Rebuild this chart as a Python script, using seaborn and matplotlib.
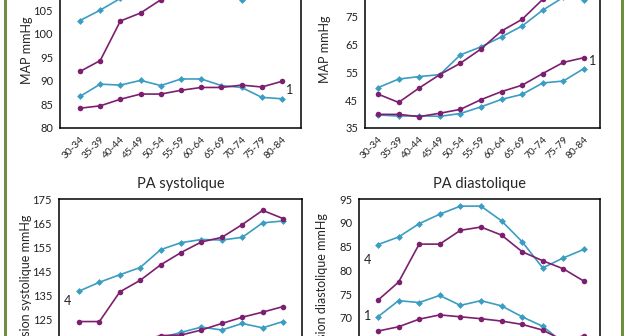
import matplotlib
matplotlib.use("Agg")
import matplotlib.pyplot as plt
from matplotlib.patches import Rectangle
import numpy as np
import pandas as pd
import seaborn as sns

sns.set_style("white")
plt.rcParams["font.family"] = ["Lato", "DejaVu Sans"]

age_groups = ["30-34", "35-39", "40-44", "45-49", "50-54", "55-59",
              "60-64", "65-69", "70-74", "75-79", "80-84"]

# Pression artérielle moyenne (MAP), group 4 and group 1, two series each
map_sys_g4_blue = [102.8, 105.0, 107.5, 109.0, 110.0, 110.5, 110.0, 109.0, 107.2, 108.0, 108.0]
map_sys_g4_purple = [92.0, 94.3, 102.7, 104.4, 107.2, 109.0, 111.0, 112.0, 113.0, 114.0, 113.0]
map_sys_g1_blue = [86.7, 89.3, 89.1, 90.1, 89.0, 90.4, 90.4, 89.0, 88.6, 86.5, 86.2]
map_sys_g1_purple = [84.2, 84.7, 86.1, 87.2, 87.2, 88.0, 88.6, 88.6, 89.1, 88.7, 89.9]

map_dia_g4_blue = [49.5, 52.6, 53.5, 54.2, 61.3, 64.2, 67.8, 71.7, 77.4, 82.0, 81.2]
map_dia_g4_purple = [47.2, 44.2, 49.4, 54.2, 58.3, 63.4, 69.9, 74.1, 81.3, 85.0, 86.5]
map_dia_g1_blue = [39.7, 39.3, 39.4, 39.2, 40.2, 42.6, 45.3, 47.1, 51.2, 51.9, 56.4]
map_dia_g1_purple = [39.9, 39.9, 39.1, 40.3, 41.7, 45.2, 48.1, 50.4, 54.6, 58.6, 60.3]

# PA systolique
sys_g4_blue = [136.8, 140.5, 143.6, 146.6, 154.0, 156.9, 158.2, 158.0, 159.1, 165.1, 165.9]
sys_g4_purple = [124.2, 124.2, 136.5, 141.3, 147.7, 152.8, 157.2, 159.1, 164.4, 170.3, 166.9]
sys_g1_blue = [112.0, 113.0, 114.0, 116.0, 117.5, 119.7, 121.9, 120.7, 123.4, 121.6, 124.2]
sys_g1_purple = [110.0, 112.0, 114.0, 116.0, 118.4, 118.6, 120.7, 123.4, 126.0, 128.1, 130.4]

# PA diastolique
dia_g4_blue = [85.4, 87.0, 89.8, 91.8, 93.5, 93.5, 90.4, 86.0, 80.5, 82.6, 84.4]
dia_g4_purple = [73.7, 77.5, 85.5, 85.5, 88.4, 89.1, 87.4, 83.9, 82.0, 80.3, 77.7]
dia_g1_blue = [70.2, 73.6, 73.2, 74.7, 72.6, 73.6, 72.5, 70.2, 68.2, 64.7, 64.0]
dia_g1_purple = [67.2, 68.1, 69.7, 70.6, 70.2, 69.8, 69.3, 68.6, 67.4, 65.2, 66.2]

BLUE = "#3b9dc2"
PURPLE = "#7d1f6f"

W, H = 632, 336
fig = plt.figure(figsize=(W / 100, H / 100), dpi=100)
fig.patch.set_facecolor("white")


def px_axes(left, right, top, bottom):
    return fig.add_axes([left / W, 1 - bottom / H, (right - left) / W, (bottom - top) / H])


def draw_panel(ax, series, ylim, yticks, xlim, ylabel, label_xy, title=None, labels=()):
    x = np.arange(len(age_groups))
    for vals, color, marker, ms in series:
        df = pd.DataFrame({"x": x, "y": vals})
        sns.lineplot(data=df, x="x", y="y", ax=ax, color=color, marker=marker,
                     markersize=ms, markeredgewidth=0, linewidth=1.2, sort=False)
    ax.set_xlim(*xlim)
    ax.set_ylim(*ylim)
    ax.set_yticks(yticks)
    ax.set_yticklabels([str(t) for t in yticks], fontsize=8)
    ax.set_xticks(x)
    ax.set_xticklabels(age_groups, rotation=45, ha="right", rotation_mode="anchor",
                       fontsize=7.3)
    ax.tick_params(axis="both", length=0, pad=5, colors="#222222")
    ax.set_xlabel("")
    ax.set_ylabel(ylabel, fontsize=9)
    ax.yaxis.set_label_coords(*label_xy)
    for s in ax.spines.values():
        s.set_visible(True)
        s.set_color("black")
        s.set_linewidth(1.1)
    if title:
        ax.set_title(title, fontsize=10.5, pad=8)
    for tx, ty, txt in labels:
        ax.text(tx, ty, txt, fontsize=9, color="#222222", ha="center", va="center")


# MAP (top left)
ax1 = px_axes(60, 301, -37, 128)
draw_panel(ax1,
           [(map_sys_g4_blue, BLUE, "D", 3.5), (map_sys_g4_purple, PURPLE, "o", 4),
            (map_sys_g1_blue, BLUE, "D", 3.5), (map_sys_g1_purple, PURPLE, "o", 4)],
           (80, 115), [80, 85, 90, 95, 100, 105, 110, 115], (-0.99, 10.94), "MAP mmHg",
           (-0.112, 0.47), labels=[(10.4, 88.0, "1")])

# MAP (top right)
ax2 = px_axes(365, 600, -11, 128)
draw_panel(ax2,
           [(map_dia_g4_blue, BLUE, "D", 3.5), (map_dia_g4_purple, PURPLE, "o", 4),
            (map_dia_g1_blue, BLUE, "D", 3.5), (map_dia_g1_purple, PURPLE, "o", 4)],
           (35, 85), [35, 45, 55, 65, 75, 85], (-0.63, 10.78), "MAP mmHg",
           (-0.145, 0.57), labels=[(10.4, 59.1, "1")])

# PA systolique (bottom left)
ax3 = px_axes(59, 302, 199, 392)
draw_panel(ax3,
           [(sys_g4_blue, BLUE, "D", 3.5), (sys_g4_purple, PURPLE, "o", 4),
            (sys_g1_blue, BLUE, "D", 3.5), (sys_g1_purple, PURPLE, "o", 4)],
           (95, 175), [95, 105, 115, 125, 135, 145, 155, 165, 175], (-0.98, 10.93),
           "Pression systolique mmHg", (-0.111, 0.544), title="PA systolique",
           labels=[(-0.54, 132.7, "4")])

# PA diastolique (bottom right)
ax4 = px_axes(359, 600, 199, 389)
draw_panel(ax4,
           [(dia_g4_blue, BLUE, "D", 3.5), (dia_g4_purple, PURPLE, "o", 4),
            (dia_g1_blue, BLUE, "D", 3.5), (dia_g1_purple, PURPLE, "o", 4)],
           (55, 95), [55, 60, 65, 70, 75, 80, 85, 90, 95], (-0.92, 10.78),
           "Pression diastolique mmHg", (-0.129, 0.53), title="PA diastolique",
           labels=[(-0.53, 82.2, "4"), (-0.49, 70.4, "1")])

# green frame bars on both sides
for x0 in (3.5, 621):
    fig.patches.append(Rectangle((x0 / W, 0), 3.2 / W, 1, transform=fig.transFigure,
                                 facecolor="#6e8f3d", edgecolor="none", zorder=10))

fig.savefig("out.png", dpi=100, facecolor="white")
